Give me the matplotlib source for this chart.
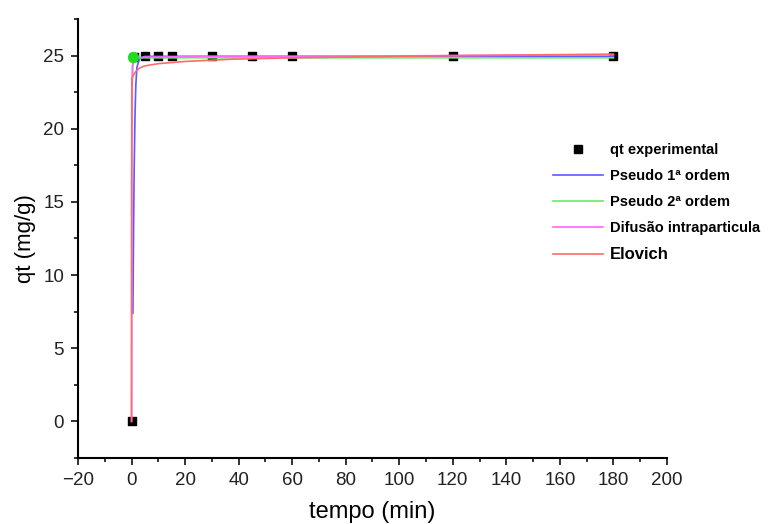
import matplotlib
matplotlib.use("Agg")
import matplotlib.pyplot as plt
from matplotlib.ticker import MultipleLocator
from matplotlib.lines import Line2D

plt.rcParams['font.family'] = ['Liberation Sans', 'DejaVu Sans']

# experimental data
t_exp = [0, 1, 5, 10, 15, 30, 45, 60, 120, 180]
q_exp = [0, 24.9, 25.0, 25.0, 25.0, 25.0, 25.0, 25.0, 25.0, 25.0]

# model curves
t_p1 = [0.5, 0.8, 1.0, 1.3, 1.6, 2.0, 3.0, 5.0, 10, 30, 60, 120, 180]
q_p1 = [7.4, 14.0, 17.5, 21.0, 23.0, 24.2, 24.8, 24.95, 24.95, 24.95, 24.95, 24.95, 24.95]

t_p2 = [0.3, 0.5, 0.8, 1.0, 2.0, 5.0, 10, 30, 60, 120, 180]
q_p2 = [23.4, 24.3, 24.7, 24.8, 24.85, 24.85, 24.85, 24.85, 24.85, 24.85, 24.85]

t_dif = [0, 0.05, 0.3, 1.0, 2.0, 5.0, 10, 30, 60, 120, 180]
q_dif = [0, 16.5, 24.3, 24.8, 24.85, 24.9, 24.9, 24.95, 24.95, 25.0, 25.05]

t_elo = [0, 0.1, 0.5, 1.0, 2.0, 3.0, 5.0, 10, 20, 37, 60, 120, 180]
q_elo = [0, 23.4, 23.6, 23.75, 24.0, 24.15, 24.3, 24.45, 24.6, 24.75, 24.85, 25.0, 25.1]

green_pt_t = [0.6]
green_pt_q = [24.9]

labels = ['qt experimental', 'Pseudo 1ª ordem', 'Pseudo 2ª ordem', 'Difusão intraparticula', 'Elovich']

fig = plt.figure(figsize=(7.77, 5.24), dpi=100)
ax = fig.add_axes([0.1004, 0.126, 0.7580, 0.8377])

ax.scatter(t_exp, q_exp, marker='s', s=40, color='black', zorder=2)
ax.plot(t_p1, q_p1, color='#5a5aff', lw=1.2, zorder=3)
ax.plot(t_p2, q_p2, color='#66ee66', lw=1.2, zorder=3)
ax.plot(t_dif, q_dif, color='#ff66ff', lw=1.2, zorder=3)
ax.plot(t_elo, q_elo, color='#ff6a6a', lw=1.2, zorder=4)
ax.scatter(green_pt_t, green_pt_q, marker='o', s=50, color='#22dd22', zorder=5)

ax.set_xlim(-20, 200)
ax.set_ylim(-2.5, 27.5)
ax.xaxis.set_major_locator(MultipleLocator(20))
ax.xaxis.set_minor_locator(MultipleLocator(10))
ax.yaxis.set_major_locator(MultipleLocator(5))
ax.yaxis.set_minor_locator(MultipleLocator(2.5))
ax.spines['top'].set_visible(False)
ax.spines['right'].set_visible(False)
for s in ['left', 'bottom']:
    ax.spines[s].set_linewidth(1.5)
ax.tick_params(which='major', length=5, width=1.3, labelsize=13.5, colors='#222222', pad=5)
ax.tick_params(which='minor', length=3, width=1.3, colors='#222222')
ax.set_xlabel('tempo (min)', fontsize=17, labelpad=9)
ax.set_ylabel('qt (mg/g)', fontsize=16, labelpad=5)

handles = [Line2D([], [], marker='s', color='black', linestyle='none', markersize=6)] + ax.get_lines()[:4]
leg = fig.legend(handles, labels, loc='upper left', bbox_to_anchor=(540/777, 1 - 130/524),
                 frameon=False, prop={'weight': 'bold', 'size': 10.5}, handlelength=3.4,
                 labelspacing=0.82, handletextpad=0.5)
leg.get_texts()[4].set_fontsize(12)

fig.savefig('out.png', dpi=100)
